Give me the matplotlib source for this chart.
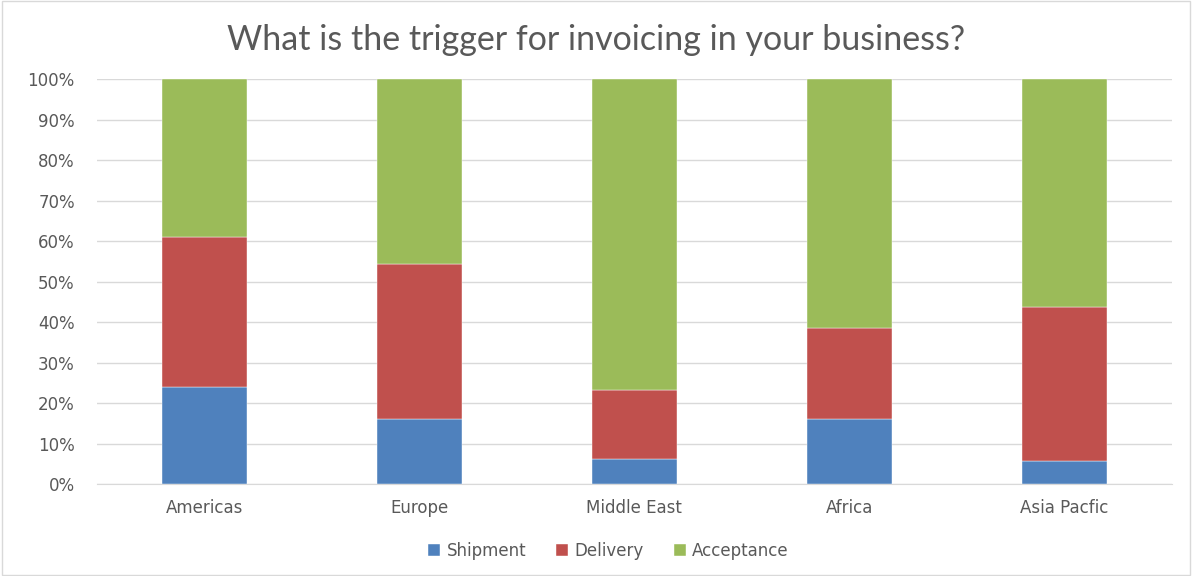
import matplotlib
matplotlib.use("Agg")
import matplotlib.pyplot as plt
from matplotlib.patches import Rectangle
import numpy as np

regions = ["Americas", "Europe", "Middle East", "Africa", "Asia Pacfic"]
shipment = [24.0, 16.0, 6.1, 16.0, 5.8]
delivery = [37.0, 38.4, 17.1, 22.5, 37.9]
acceptance = [39.0, 45.6, 76.8, 61.5, 56.3]

colors = {"Shipment": "#4F81BD", "Delivery": "#C0504D", "Acceptance": "#9BBB59"}
text_color = "#595959"
plt.rcParams["font.family"] = "DejaVu Sans"

fig = plt.figure(figsize=(11.92, 5.76), dpi=100)
ax = fig.add_axes([0.0814, 0.1597, 0.9016, 0.7031])

x = np.arange(len(regions))
width = 0.395
bottom = np.zeros(len(regions))
for name, vals in [("Shipment", shipment), ("Delivery", delivery), ("Acceptance", acceptance)]:
    ax.bar(x, vals, width, bottom=bottom, color=colors[name], label=name,
           edgecolor="white", linewidth=0.3, zorder=3)
    bottom += np.array(vals)

ax.set_xlim(-0.5, len(regions) - 0.5)
ax.set_ylim(0, 100)
ax.set_yticks(np.arange(0, 101, 10))
ax.set_yticklabels(["{}%".format(v) for v in range(0, 101, 10)])
ax.set_xticks(x)
ax.set_xticklabels(regions)
ax.tick_params(axis="both", length=0, labelsize=12, labelcolor=text_color)
ax.tick_params(axis="y", pad=16)
ax.tick_params(axis="x", pad=11)
ax.yaxis.grid(True, color="#D9D9D9", linewidth=1, zorder=0)
for side in ["top", "right", "left"]:
    ax.spines[side].set_visible(False)
ax.spines["bottom"].set_color("#D9D9D9")

fig.suptitle("What is the trigger for invoicing in your business?", y=0.958,
             fontsize=24.5, color=text_color, family="Lato")

ax.legend(loc="upper center", bbox_to_anchor=(0.476, -0.105), ncol=3, frameon=False,
          fontsize=12, labelcolor=text_color, handlelength=0.7, handleheight=0.7,
          handletextpad=0.4, columnspacing=1.8)

fig.patches.append(Rectangle((0.002, 0.002), 0.996, 0.996, transform=fig.transFigure,
                             fill=False, edgecolor="#D9D9D9", linewidth=1))

fig.savefig("out.png", dpi=100)
